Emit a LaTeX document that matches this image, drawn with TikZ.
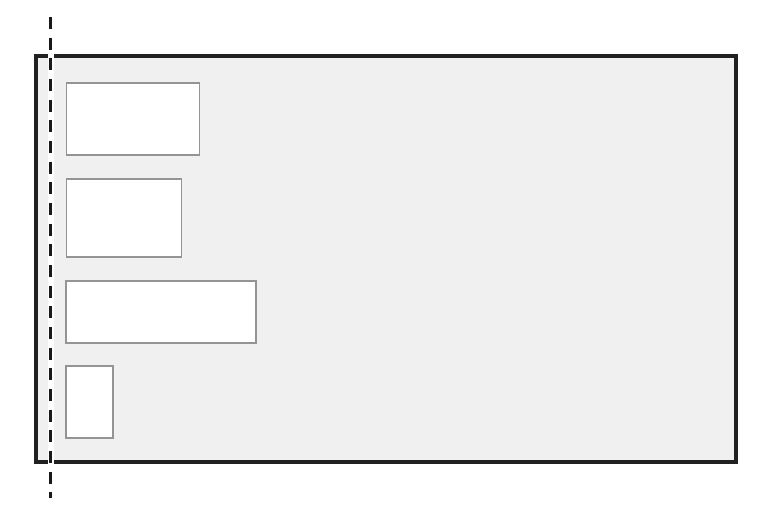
\documentclass[tikz,border=0pt]{standalone}
\usetikzlibrary{calc}
\begin{document}
\begin{tikzpicture}[x=0.75pt,y=-0.75pt,
  frame/.style={draw=black!87,line width=2.3pt,fill=black!6},
  slot/.style={draw=black!42,line width=1.1pt,fill=white},
  halo/.style={draw=white,line width=4.5pt},
  guide/.style={draw=black!90,line width=2.2pt,dash pattern=on 9pt off 6.5pt}]
\useasboundingbox (0,0) rectangle (762,520);
\path[frame] (36,56) rectangle (736,462);
\node[slot,minimum width=133*0.75pt,minimum height=72*0.75pt,inner sep=0pt] (b1) at (133,119) {};
\node[slot,minimum width=115*0.75pt,minimum height=78*0.75pt,inner sep=0pt] (b2) at (124,218) {};
\node[slot,minimum width=190*0.75pt,minimum height=62*0.75pt,inner sep=0pt] (b3) at (161,312) {};
\node[slot,minimum width=47*0.75pt,minimum height=72*0.75pt,inner sep=0pt] (b4) at (89.5,402) {};
\coordinate (gtop) at (50.5,17);
\coordinate (gbot) at (50.5,498);
\draw[halo] (gtop) -- (gbot);
\draw[guide] (gtop) -- (gbot);
\end{tikzpicture}
\end{document}
